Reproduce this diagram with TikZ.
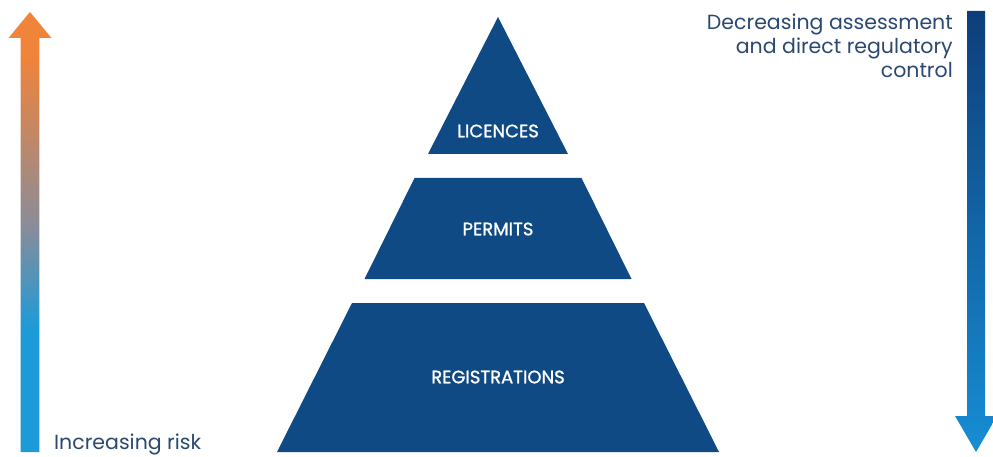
\documentclass[tikz,border=0pt]{standalone}
\usepackage{fontspec}
\setmainfont{Poppins}
\usetikzlibrary{shadings}
\definecolor{pyrblue}{RGB}{16,74,132}
\definecolor{txtblue}{RGB}{42,72,112}
\definecolor{riskorange}{RGB}{240,132,58}
\definecolor{riskgray}{RGB}{140,140,152}
\definecolor{riskblue}{RGB}{28,155,216}
\definecolor{ctrltop}{RGB}{14,62,122}
\definecolor{ctrlbot}{RGB}{22,142,212}
\pgfdeclareverticalshading{riskshade}{100bp}{color(0bp)=(riskblue); color(25bp)=(riskblue); color(39bp)=(riskblue); color(51bp)=(riskgray); color(70bp)=(riskorange); color(75bp)=(riskorange); color(100bp)=(riskorange)}
\pgfdeclareverticalshading{ctrlshade}{100bp}{color(0bp)=(ctrlbot); color(25bp)=(ctrlbot); color(75bp)=(ctrltop); color(100bp)=(ctrltop)}
\tikzset{
  tier/.style={fill=pyrblue, draw=none},
  tierlabel/.style={text=white, font=\fontsize{18}{20}\selectfont\addfontfeature{FakeBold=1.2}, inner sep=0pt},
  sidetext/.style={text=txtblue, font=\fontsize{20.5}{24}\selectfont, inner sep=0pt}
}
\begin{document}
\begin{tikzpicture}[x=1pt,y=-1pt]
\useasboundingbox (0,0) rectangle (993,457);
% pyramid tiers
\fill[tier] (498,17) -- (568,154) -- (428,154) -- cycle;
\fill[tier] (414.5,178) -- (581.5,178) -- (631.5,279) -- (364.5,279) -- cycle;
\fill[tier] (352,303) -- (644,303) -- (719,452) -- (277,452) -- cycle;
\node[tierlabel] (lic) at (498,131) {LICENCES};
\node[tierlabel] (per) at (498,229) {PERMITS};
\node[tierlabel] (reg) at (498,377) {REGISTRATIONS};
% left arrow (increasing risk)
\shade[shading=riskshade] (20.7,452) -- (20.7,38) -- (8.5,38) -- (30,12) -- (51.5,38) -- (39.3,38) -- (39.3,452) -- cycle;
% right arrow (decreasing control)
\shade[shading=ctrlshade] (967,11) -- (985,11) -- (985,416) -- (997,416) -- (976,452) -- (955,416) -- (967,416) -- cycle;
% texts
\node[sidetext, anchor=base west] (risk) at (54,449) {Increasing risk};
\node[sidetext, anchor=north east, align=right] (ctrl) at (953,14) {Decreasing assessment\\and direct regulatory\\control};
\end{tikzpicture}
\end{document}
